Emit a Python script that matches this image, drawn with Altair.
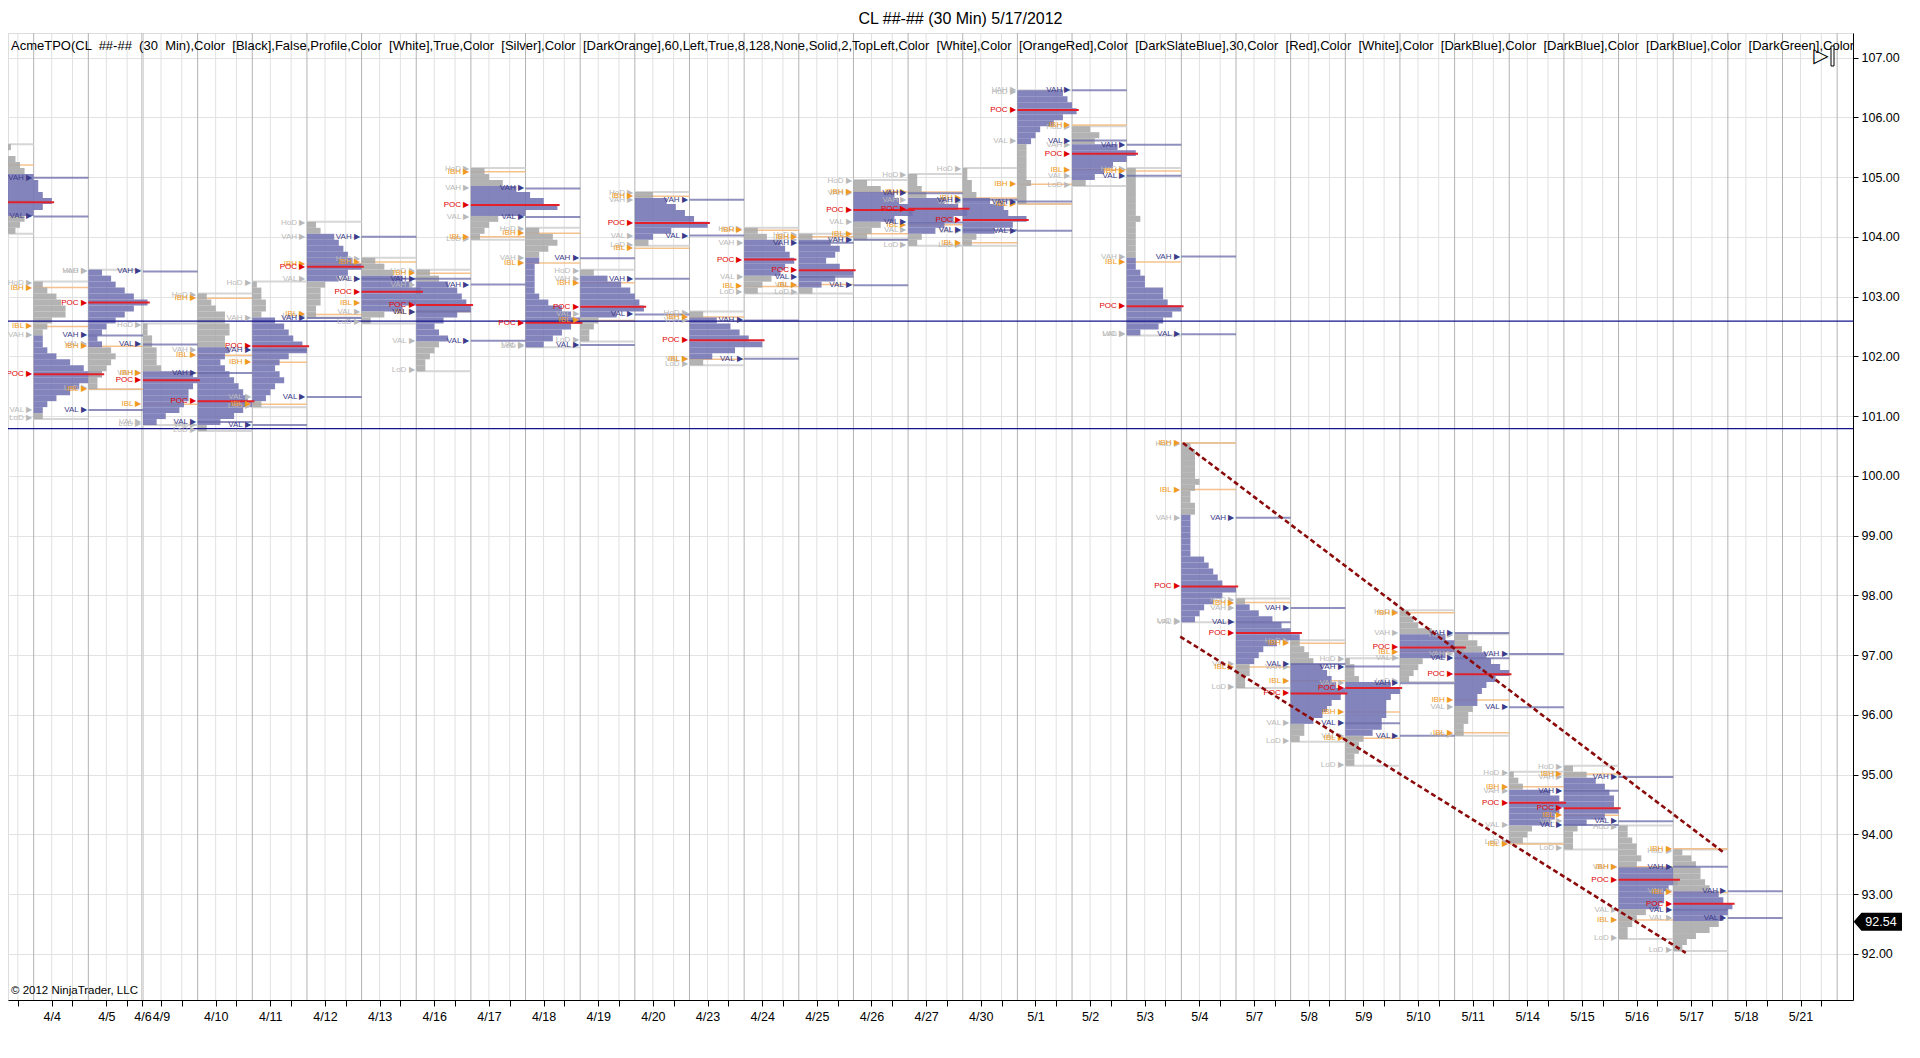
import json
import altair as alt
import pandas as pd

# ---------------- text ----------------
TITLE = "CL ##-## (30 Min)  5/17/2012"
INDICATOR = ("AcmeTPO(CL  ##-##  (30  Min),Color  [Black],False,Profile,Color  [White],True,Color  [Silver],"
             "Color  [DarkOrange],60,Left,True,8,128,None,Solid,2,TopLeft,Color  [White],Color  [OrangeRed],"
             "Color  [DarkSlateBlue],30,Color  [Red],Color  [White],Color  [DarkBlue],Color  [DarkBlue],"
             "Color  [DarkBlue],Color  [DarkGreen],Color  [DarkGreen]")
COPYRIGHT = "\u00a9 2012 NinjaTrader, LLC"

# ---------------- x axis (session index units) ----------------
date_labels = ["4/4", "4/5", "4/6", "4/9", "4/10", "4/11", "4/12", "4/13", "4/16", "4/17", "4/18",
               "4/19", "4/20", "4/23", "4/24", "4/25", "4/26", "4/27", "4/30", "5/1", "5/2", "5/3",
               "5/4", "5/7", "5/8", "5/9", "5/10", "5/11", "5/14", "5/15", "5/16", "5/17", "5/18", "5/21"]
label_ticks = [0.33, 1.33, 1.99, 2.33, 3.33, 4.33, 5.33, 6.33, 7.33, 8.33, 9.33, 10.33, 11.33,
               12.33, 13.33, 14.33, 15.33, 16.33, 17.33, 18.33, 19.33, 20.33, 21.33, 22.33, 23.33,
               24.33, 25.33, 26.33, 27.33, 28.33, 29.33, 30.33, 31.33, 32.33]
minor_ticks = [-0.29, 0.71, 1.71, 2.71, 3.71, 4.71, 5.71, 6.71, 7.71, 8.71, 9.71, 10.71, 11.71,
               12.71, 13.71, 14.71, 15.71, 16.71, 17.71, 18.71, 19.71, 20.71, 21.71, 22.71, 23.71,
               24.71, 25.71, 26.71, 27.71, 28.71, 29.71, 30.71, 31.71, 32.71]
session_bounds = [-1, 0, 1, 1.98, 2, 3, 4, 5, 6, 7, 8, 9, 10, 11, 12, 13, 14, 15, 16, 17, 18, 19,
                  20, 21, 22, 23, 24, 25, 26, 27, 28, 29, 30, 31, 32, 33]

# ---------------- sessions / profiles ----------------
session_days = ["4/3", "4/4", "4/5", "4/9", "4/10", "4/11", "4/12", "4/13", "4/16", "4/17", "4/18",
                "4/19", "4/20", "4/23", "4/24", "4/25", "4/26", "4/27", "4/30", "5/1", "5/2", "5/3",
                "5/4", "5/7", "5/8", "5/9", "5/10", "5/11", "5/14", "5/15", "5/16", "5/17"]
session_start = [-1, 0, 1, 2, 3, 4, 5, 6, 7, 8, 9, 10, 11, 12, 13, 14, 15, 16, 17, 18, 19, 20,
                 21, 22, 23, 24, 25, 26, 27, 28, 29, 30]
profile_top = [105.5, 103.2, 103.4, 102.5, 103.0, 103.2, 104.2, 103.6, 103.4, 105.1, 104.1,
               103.4, 104.7, 102.7, 104.1, 104.0, 104.9, 105.0, 105.1, 106.4, 105.8, 105.1,
               100.5, 97.9, 97.2, 96.9, 97.7, 97.3, 95.0, 95.1, 94.1, 93.7]
# TPO counts per 0.10 price row, from the top of each profile downwards
profile_counts = [
    [7, 6, 8, 9, 10, 12, 13, 13, 14, 16, 14, 12, 10, 9, 8],
    [2, 3, 5, 6, 7, 7, 4, 3, 2, 2, 2, 3, 5, 8, 11, 15, 12, 10, 8, 5, 3, 2, 2],
    [3, 5, 6, 8, 10, 13, 10, 8, 6, 4, 3, 2, 3, 5, 6, 5, 4, 3, 2, 2],
    [1, 1, 2, 2, 3, 3, 3, 4, 11, 12, 11, 10, 10, 9, 8, 5, 3],
    [2, 3, 4, 6, 6, 7, 7, 6, 6, 7, 6, 5, 6, 7, 8, 9, 10, 11, 12, 10, 8, 5, 2],
    [1, 2, 2, 3, 3, 2, 5, 7, 8, 9, 11, 12, 8, 6, 5, 6, 7, 5, 4, 3, 2],
    [2, 3, 6, 7, 8, 9, 10, 12, 9, 7, 4, 3, 3, 3, 2, 2],
    [3, 5, 7, 9, 11, 13, 12, 12, 9, 5, 2],
    [3, 5, 7, 9, 10, 11, 12, 9, 6, 4, 5, 7, 5, 4, 3, 2, 2],
    [3, 4, 7, 10, 13, 16, 19, 12, 6, 4, 3, 2],
    [3, 6, 7, 5, 3, 3, 2, 2, 2, 2, 2, 3, 5, 8, 10, 12, 10, 8, 6, 4],
    [3, 6, 9, 11, 12, 13, 14, 8, 4, 3, 2, 2],
    [4, 7, 9, 11, 13, 16, 8, 4, 3],
    [3, 6, 9, 11, 13, 16, 10, 5, 3],
    [3, 5, 8, 9, 10, 11, 9, 8, 6, 4, 3],
    [3, 7, 9, 8, 6, 9, 12, 8, 5, 3],
    [3, 6, 9, 10, 12, 13, 9, 6, 4, 3],
    [2, 2, 3, 4, 8, 11, 13, 10, 8, 6, 3, 2],
    [1, 1, 2, 2, 3, 6, 9, 10, 14, 11, 7, 3, 2],
    [10, 11, 12, 13, 10, 8, 5, 4, 3, 2, 2, 2, 2, 2, 2, 3, 2, 2, 2],
    [4, 6, 5, 10, 14, 12, 9, 7, 5, 3],
    [2, 2, 2, 2, 2, 2, 2, 2, 3, 2, 2, 2, 2, 2, 2, 2, 2, 3, 4, 4, 8, 8, 9, 12, 10, 8, 7, 3],
    [2, 3, 3, 3, 3, 3, 4, 3, 2, 2, 3, 3, 2, 2, 2, 2, 2, 2, 2, 5, 6, 7, 8, 9, 12, 9, 7, 5, 4, 3],
    [2, 3, 5, 8, 10, 12, 14, 9, 6, 5, 4, 3, 3, 2, 2],
    [2, 3, 4, 5, 7, 8, 9, 10, 12, 11, 9, 8, 7, 5, 3, 3, 2],
    [1, 2, 2, 3, 10, 12, 10, 9, 9, 9, 8, 8, 6, 4, 3, 3, 2, 2],
    [2, 3, 4, 7, 10, 12, 14, 10, 5, 4, 3, 2],
    [3, 5, 6, 7, 8, 10, 12, 9, 7, 6, 5, 5, 4, 3, 3, 2, 2],
    [1, 2, 3, 9, 11, 12, 11, 10, 9, 5, 4, 3],
    [2, 5, 7, 9, 10, 11, 11, 12, 9, 5, 3, 2, 2, 2],
    [2, 2, 3, 4, 4, 5, 4, 12, 12, 13, 11, 10, 10, 9, 6, 4, 3, 2, 2],
    [2, 4, 5, 6, 6, 7, 8, 10, 11, 13, 12, 11, 10, 8, 5, 3, 2],
]
poc_price = [104.58, 101.70, 102.90, 101.60, 101.25, 102.17, 103.50, 103.08, 102.86, 104.53, 102.56,
             102.83, 104.23, 102.27, 103.62, 103.44, 104.45, 104.47, 104.28, 106.12, 105.39, 102.84,
             98.15, 97.37, 96.36, 96.45, 97.13, 96.68, 94.53, 94.44, 93.24, 92.84]
vah_price = [104.99, 102.35, 103.42, 101.72, 102.10, 102.64, 104.00, 103.30, 103.20, 104.81, 103.64,
             103.30, 104.62, 102.60, 103.90, 103.95, 104.73, 104.62, 104.59, 106.45, 105.54, 103.67,
             99.30, 97.79, 96.81, 96.53, 97.37, 97.02, 94.73, 94.96, 93.46, 93.05]
val_price = [104.34, 101.10, 102.20, 100.90, 100.85, 101.32, 103.30, 102.75, 102.26, 104.33, 102.19,
             102.70, 104.02, 101.96, 103.33, 103.19, 104.24, 104.11, 104.10, 105.61, 105.02, 102.37,
             97.55, 96.85, 95.86, 95.65, 96.95, 96.13, 94.16, 94.22, 92.74, 92.60]
ibh_price = [105.20, 103.15, 102.17, 101.72, 102.97, 101.90, 103.55, 103.58, 103.39, 105.09, 104.06,
             103.23, 104.68, 102.66, 104.11, 104.00, 104.75, 104.75, 104.65, 104.88, 105.87, 105.10,
             100.55, 97.88, 97.20, 96.05, 97.71, 96.25, 94.80, 95.01, 93.46, 93.76]
ibl_price = [104.60, 102.50, 101.45, 101.20, 102.02, 101.20, 102.70, 102.90, 102.75, 104.00, 103.56,
             102.60, 103.81, 101.95, 103.17, 103.20, 104.05, 104.20, 103.90, 104.55, 105.12, 103.58,
             99.77, 96.80, 96.57, 95.61, 97.06, 95.70, 93.84, 94.32, 92.57, 93.03]

level_prices = [102.59, 100.79]
channel_x = [21.03, 20.98]
channel_x2 = [30.95, 30.23]
channel_y = [100.55, 97.31]
channel_y2 = [93.68, 92.02]
last_price = 92.54

# ---------------- styling ----------------
FONT = "Liberation Sans"
W, H = 1845, 967
VA_COLOR = "#7373b3"
OUT_COLOR = "#a9a9a9"
POC_COLOR = "#e3202a"
GRAY_LBL = "#b9b9b9"
POC_LBL = "#e00000"
IB_LBL = "#f09a22"
VA_LBL = "#3b3b8a"

XS = alt.Scale(domain=[-0.47, 33.29], nice=False, zero=False)
YS = alt.Scale(domain=[91.23, 107.41], nice=False, zero=False)

all_ticks = sorted(label_ticks + minor_ticks)
tick_text = [date_labels[label_ticks.index(t)] if t in label_ticks else "" for t in all_ticks]
label_expr = ("[" + ",".join("'%s'" % s for s in tick_text) + "][indexof("
              + json.dumps(all_ticks) + ", datum.value)]")

XAX = alt.Axis(values=all_ticks, labelExpr=label_expr, grid=False, ticks=True, tickSize=6,
               tickColor="black", domainColor="black", labelColor="black", labelFont=FONT,
               labelFontSize=12.5, labelPadding=4, labelOverlap=False, labelFlush=False,
               labelAngle=0, title=None)
YAX = alt.Axis(orient="right", values=list(range(92, 108)), format=".2f", grid=True,
               gridColor="#e3e3e3", tickColor="black", domainColor="black", labelColor="black",
               labelFont=FONT, labelFontSize=12.5, tickSize=5, labelPadding=3, title=None)


def X(f):
    return alt.X(f, type="quantitative", scale=XS, axis=XAX)


def Y(f):
    return alt.Y(f, type="quantitative", scale=YS, axis=YAX)


# ---------------- build tables ----------------
bars, pocs, left_lbl, right_lbl, va_lines, ib_lines, hl_lines = [], [], [], [], [], [], []
for i, k in enumerate(session_start):
    top = profile_top[i]
    counts = profile_counts[i]
    bottom = round(top - 0.1 * (len(counts) - 1), 2)
    for j, c in enumerate(counts):
        p = round(top - 0.1 * j, 2)
        inva = (val_price[i] - 0.02) <= p <= (vah_price[i] + 0.02)
        bars.append(dict(x=k, x2=k + c / 12.0, y=p + 0.05, y2=p - 0.05,
                         color=VA_COLOR if inva else OUT_COLOR))
    pocs.append(dict(x=k, x2=k + max(counts) / 12.0 + 0.04, y=poc_price[i]))
    lx = k - 0.03
    left_lbl += [
        dict(x=lx, y=top + 0.03, text="HoD \u25b6", color=GRAY_LBL),
        dict(x=lx, y=bottom - 0.03, text="LoD \u25b6", color=GRAY_LBL),
        dict(x=lx, y=vah_price[i], text="VAH \u25b6", color=GRAY_LBL),
        dict(x=lx, y=val_price[i], text="VAL \u25b6", color=GRAY_LBL),
        dict(x=lx, y=ibh_price[i], text="IBH \u25b6", color=IB_LBL),
        dict(x=lx, y=ibl_price[i], text="IBL \u25b6", color=IB_LBL),
        dict(x=lx, y=poc_price[i], text="POC \u25b6", color=POC_LBL),
    ]
    right_lbl += [
        dict(x=k + 0.97, y=vah_price[i], text="VAH \u25b6", color=VA_LBL),
        dict(x=k + 0.97, y=val_price[i], text="VAL \u25b6", color=VA_LBL),
    ]
    va_lines += [dict(x=k + 1, x2=k + 2, y=vah_price[i]), dict(x=k + 1, x2=k + 2, y=val_price[i])]
    ib_lines += [dict(x=k, x2=k + 1, y=ibh_price[i]), dict(x=k, x2=k + 1, y=ibl_price[i])]
    hl_lines += [dict(x=k, x2=k + 1, y=top + 0.05), dict(x=k, x2=k + 1, y=bottom - 0.05)]

vgrid = ([dict(x=b, color="#b3b3b3") for b in session_bounds] +
         [dict(x=t, color="#e1e1e1") for t in all_ticks])
channel = pd.DataFrame(dict(x=channel_x, x2=channel_x2, y=channel_y, y2=channel_y2))
one = pd.DataFrame({"a": [0]})
indicator_text = INDICATOR.replace("  ", " \u00a0")

layers = [
    alt.Chart(pd.DataFrame(vgrid)).mark_rule(strokeWidth=1, clip=True).encode(
        x=X("x"), color=alt.Color("color:N", scale=None)),
    alt.Chart(pd.DataFrame(hl_lines)).mark_rule(strokeWidth=2, color="#d6d6d6", clip=True).encode(
        x=X("x"), x2="x2", y=Y("y")),
    alt.Chart(pd.DataFrame(ib_lines)).mark_rule(strokeWidth=1.5, color="#f3b77a", opacity=0.85,
                                                 clip=True).encode(x=X("x"), x2="x2", y=Y("y")),
    alt.Chart(pd.DataFrame(bars)).mark_rect(opacity=0.88, clip=True).encode(
        x=X("x"), x2="x2", y=Y("y"), y2="y2", color=alt.Color("color:N", scale=None)),
    alt.Chart(pd.DataFrame(pocs)).mark_rule(strokeWidth=2, color=POC_COLOR, clip=True).encode(
        x=X("x"), x2="x2", y=Y("y")),
    alt.Chart(pd.DataFrame(va_lines)).mark_rule(strokeWidth=2, color="#6b6ba8", opacity=0.75,
                                                 clip=True).encode(x=X("x"), x2="x2", y=Y("y")),
    alt.Chart(pd.DataFrame({"y": level_prices})).mark_rule(strokeWidth=1.2, color="#14148c",
                                                           clip=True).encode(y=Y("y")),
    alt.Chart(pd.DataFrame(left_lbl)).mark_text(align="right", baseline="middle", font=FONT,
                                                 fontSize=8, clip=True).encode(
        x=X("x"), y=Y("y"), text="text:N", color=alt.Color("color:N", scale=None)),
    alt.Chart(pd.DataFrame(right_lbl)).mark_text(align="right", baseline="middle", font=FONT,
                                                  fontSize=8, clip=True).encode(
        x=X("x"), y=Y("y"), text="text:N", color=alt.Color("color:N", scale=None)),
    alt.Chart(channel).mark_rule(strokeDash=[5, 3], strokeWidth=2.6, color="#8b0a0a",
                                 clip=True).encode(x=X("x"), x2="x2", y=Y("y"), y2="y2"),
    alt.Chart(one).mark_text(text=indicator_text, align="left", baseline="middle", font=FONT,
                             fontSize=13, color="black", clip=True).encode(
        x=alt.value(3), y=alt.value(13)),
    alt.Chart(one).mark_text(text=COPYRIGHT, align="left", baseline="middle", font=FONT,
                             fontSize=11.5, color="black").encode(x=alt.value(3), y=alt.value(H - 9)),
    alt.Chart(one).mark_text(text="\u25b7", align="center", baseline="middle", font="DejaVu Sans",
                             fontSize=20, color="black").encode(x=alt.value(W - 32), y=alt.value(23)),
    alt.Chart(one).mark_rect(stroke="black", fill="white", strokeWidth=1).encode(
        x=alt.value(W - 22), x2=alt.value(W - 19), y=alt.value(13), y2=alt.value(33)),
    alt.Chart(pd.DataFrame({"y": [last_price]})).mark_point(
        shape="M-1,0L-0.7,-0.35L1,-0.35L1,0.35L-0.7,0.35Z", size=2116, filled=True,
        fill="black", stroke="black", opacity=1, clip=False).encode(
        x=alt.value(W + 25), y=Y("y")),
    alt.Chart(pd.DataFrame({"y": [last_price], "t": ["%.2f" % last_price]})).mark_text(
        align="center", baseline="middle", font=FONT, fontSize=12.5, color="white",
        clip=False).encode(x=alt.value(W + 28), y=Y("y"), text="t:N"),
]

chart = alt.layer(*layers).properties(
    width=W, height=H,
    title=alt.TitleParams(TITLE, font=FONT, fontSize=16, fontWeight="normal", color="black",
                          anchor="middle", offset=6, dx=30),
    padding={"left": 0, "top": 3, "right": 2, "bottom": 2},
).configure_view(stroke="black", strokeWidth=1).configure(background="white")

chart.save("out.html", embed_options={"renderer": "svg", "actions": False})
